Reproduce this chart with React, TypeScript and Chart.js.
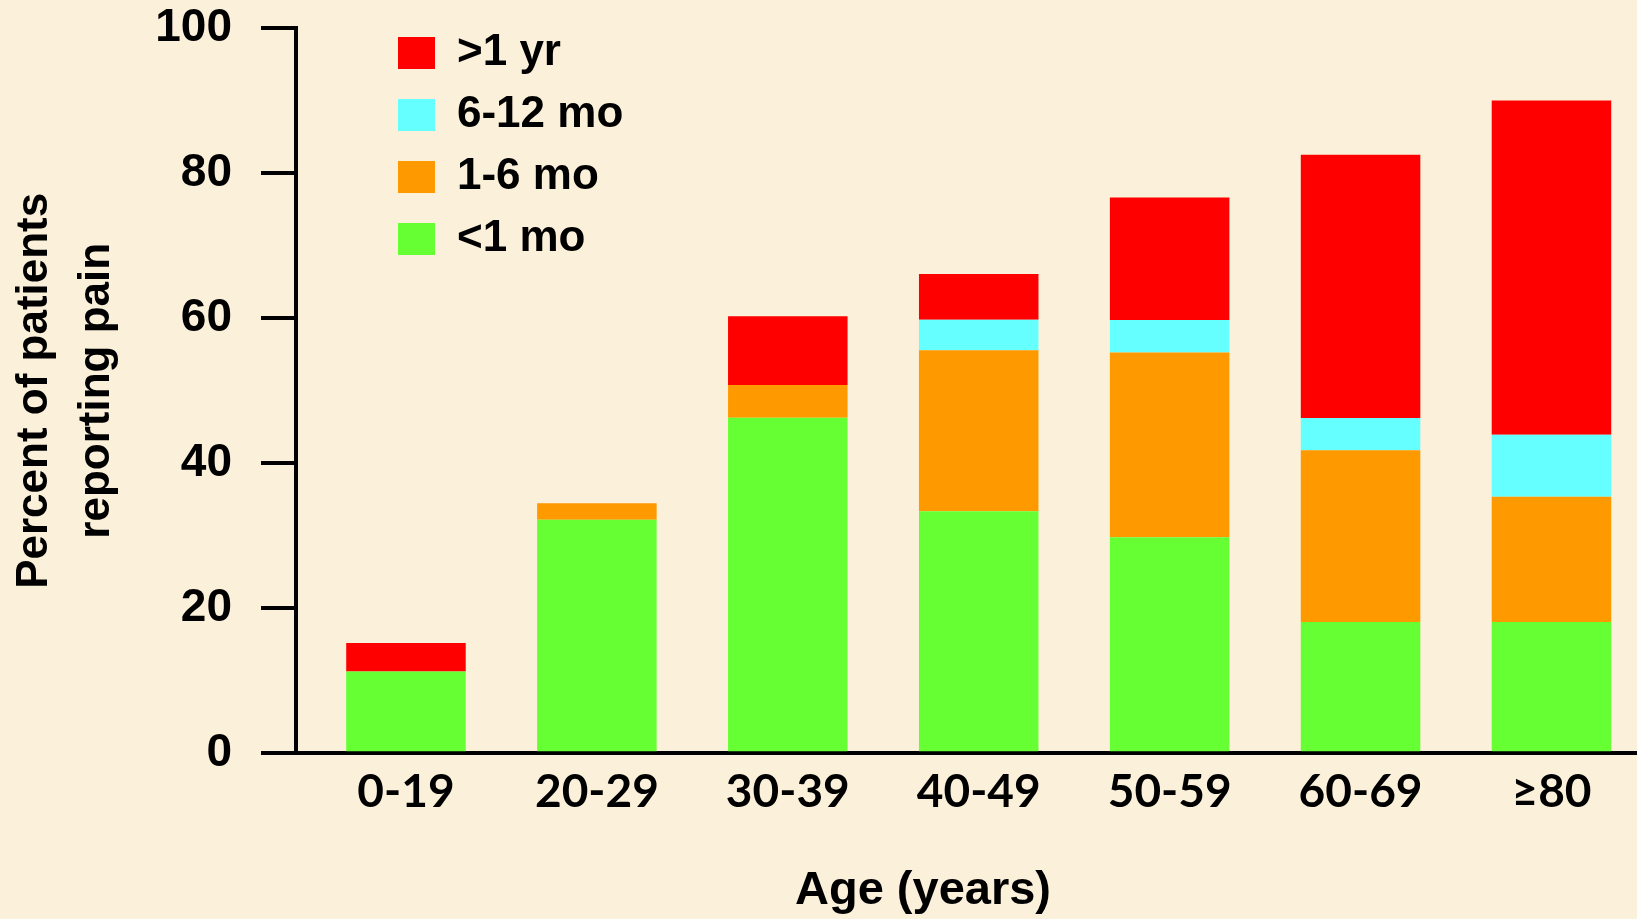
import { useEffect, useRef } from 'react';
import { Chart, registerables } from 'chart.js';

Chart.register(...registerables);

// ---- data ----
const categories = ['0-19', '20-29', '30-39', '40-49', '50-59', '60-69', '≥80'];
const lessThan1Mo = [11.3, 32.2, 46.3, 33.4, 29.8, 18.1, 18.1];
const oneToSixMo = [0, 2.3, 4.5, 22.2, 25.5, 23.7, 17.3];
const sixToTwelveMo = [0, 0, 0, 4.2, 4.45, 4.45, 8.55];
const moreThan1Yr = [3.9, 0, 9.5, 6.3, 16.9, 36.3, 46.1];

const seriesLabels = ['<1 mo', '1-6 mo', '6-12 mo', '>1 yr'];
const seriesColors = ['#66FF33', '#FF9900', '#66FFFF', '#FF0000'];

const yAxisTitle = ['Percent of patients', 'reporting pain'];
const xAxisTitle = 'Age (years)';

const W = 1637;
const H = 919;

const helv = '"Liberation Sans", Arial, Helvetica, sans-serif';
const humanist = 'Lato, "DejaVu Sans", sans-serif';

// places the legend block inside the plot, at the upper left
const legendPlacement = {
  id: 'legendPlacement',
  afterLayout(chart: any) {
    const lg = chart.legend;
    if (!lg) return;
    const w = lg.width;
    lg.left = 380;
    lg.top = 13;
    lg.right = 380 + w;
    lg.bottom = chart.height;
  },
};

// x-axis title, set slightly left of the plot centre as in the reference
const xTitlePlugin = {
  id: 'xTitlePlugin',
  afterDraw(chart: any) {
    const ctx = chart.ctx;
    ctx.save();
    ctx.fillStyle = '#000';
    ctx.font = `bold 47px ${helv}`;
    ctx.textAlign = 'center';
    ctx.textBaseline = 'alphabetic';
    ctx.fillText(xAxisTitle, 923, 904);
    ctx.restore();
  },
};

export default function App() {
  const canvasRef = useRef<HTMLCanvasElement | null>(null);

  useEffect(() => {
    const canvas = canvasRef.current;
    if (!canvas) return;
    const seriesValues = [lessThan1Mo, oneToSixMo, sixToTwelveMo, moreThan1Yr];
    const chart = new Chart(canvas, {
      type: 'bar',
      data: {
        datasets: seriesValues.map((vals, s) => ({
          label: seriesLabels[s],
          data: vals.map((v, i) => ({ x: i, y: v })),
          backgroundColor: seriesColors[s],
          borderWidth: 0,
          categoryPercentage: 1,
          barPercentage: 0.626,
        })),
      },
      options: {
        responsive: false,
        animation: false,
        devicePixelRatio: 1,
        layout: { padding: { top: 28.3, left: 0, right: 0, bottom: 0 } },
        plugins: {
          tooltip: { enabled: false },
          legend: {
            position: 'chartArea',
            align: 'start',
            reverse: true,
            labels: {
              boxWidth: 37,
              boxHeight: 32,
              padding: 18,
              color: '#000',
              font: { family: helv, weight: 'bold', size: 44 },
            },
          },
        },
        scales: {
          x: {
            type: 'linear',
            stacked: true,
            offset: false,
            min: -0.576,
            max: 6.448,
            z: 1,
            afterFit: (s: any) => {
              s.height = 165.7;
            },
            grid: { display: false, drawTicks: false, offset: false },
            border: { display: true, color: '#000', width: 4 },
            ticks: {
              stepSize: 1,
              includeBounds: false,
              autoSkip: false,
              maxRotation: 0,
              minRotation: 0,
              padding: 11,
              color: '#000',
              font: { family: humanist, weight: 'bold', size: 46 },
              callback: (v: any) => categories[v] ?? '',
            },
            title: { display: false },
          },
          y: {
            stacked: true,
            min: 0,
            max: 100,
            z: 1,
            afterFit: (s: any) => {
              s.width = 296;
              s.paddingTop = 0;
              s.paddingBottom = 0;
            },
            grid: {
              drawOnChartArea: false,
              drawTicks: true,
              tickLength: 35,
              color: '#000',
              lineWidth: 4,
            },
            border: { display: true, color: '#000', width: 4 },
            ticks: {
              stepSize: 20,
              padding: 29,
              color: '#000',
              font: { family: helv, weight: 'bold', size: 46 },
            },
            title: {
              display: true,
              text: yAxisTitle,
              color: '#000',
              font: { family: helv, weight: 'bold', size: 44, lineHeight: 1.4 },
              padding: { top: 4, bottom: 0 },
            },
          },
        },
      },
      plugins: [legendPlacement, xTitlePlugin],
    } as any);
    return () => chart.destroy();
  }, []);

  return (
    <div
      style={{
        position: 'absolute',
        left: 0,
        top: 0,
        width: W,
        height: H,
        overflow: 'hidden',
        background: '#FBF0DA',
      }}
    >
      <canvas ref={canvasRef} width={W} height={H} style={{ display: 'block' }} />
    </div>
  );
}
